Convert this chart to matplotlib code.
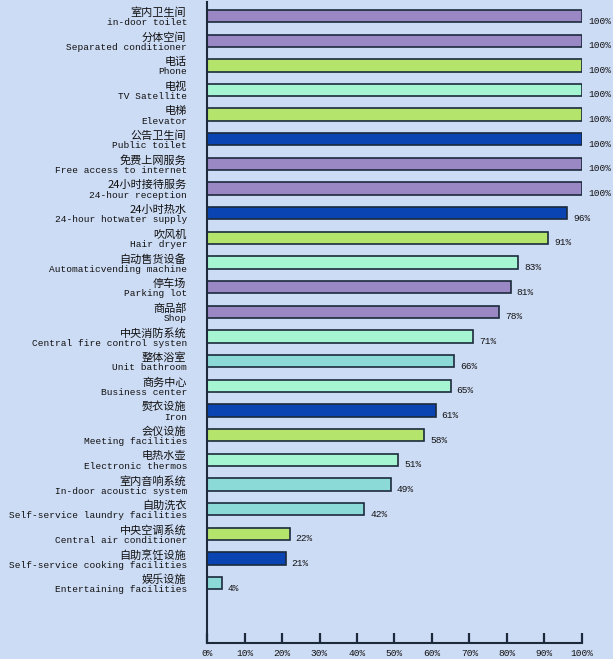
import matplotlib
matplotlib.use('Agg')
import matplotlib.pyplot as plt
import matplotlib.transforms as mtransforms

plt.rcParams['font.family'] = ['Noto Sans CJK SC', 'DejaVu Sans']

names_cn = ['室内卫生间', '分体空间', '电话', '电视', '电梯', '公告卫生间',
            '免费上网服务', '24小时接待服务', '24小时热水', '吹风机', '自动售货设备',
            '停车场', '商品部', '中央消防系统', '整体浴室', '商务中心', '熨衣设施',
            '会仪设施', '电热水壶', '室内音响系统', '自助洗衣', '中央空调系统',
            '自助烹饪设施', '娱乐设施']
names_en = ['in-door toilet', 'Separated conditioner', 'Phone', 'TV Satellite',
            'Elevator', 'Public toilet', 'Free access to internet',
            '24-hour reception', '24-hour hotwater supply', 'Hair dryer',
            'Automaticvending machine', 'Parking lot', 'Shop',
            'Central fire control systen', 'Unit bathroom', 'Business center',
            'Iron', 'Meeting facilities', 'Electronic thermos',
            'In-door acoustic system', 'Self-service laundry facilities',
            'Central air conditioner', 'Self-service cooking facilities',
            'Entertaining facilities']
values = [100, 100, 100, 100, 100, 100, 100, 100, 96, 91, 83, 81, 78, 71,
          66, 65, 61, 58, 51, 49, 42, 22, 21, 4]
groups = ['purple', 'purple', 'lime', 'mint', 'lime', 'blue', 'purple', 'purple',
          'blue', 'lime', 'mint', 'purple', 'purple', 'mint', 'teal', 'mint',
          'blue', 'lime', 'mint', 'teal', 'teal', 'lime', 'blue', 'teal']
xticks = [0, 10, 20, 30, 40, 50, 60, 70, 80, 90, 100]

palette = {'purple': '#9a88c4', 'lime': '#b4e46c', 'mint': '#a6f5d2',
           'blue': '#0a44b2', 'teal': '#8cdad8'}
bg = '#cddcf5'
dark = '#1c2a3c'

fig = plt.figure(figsize=(6.13, 6.59), dpi=100, facecolor=bg)
ax = fig.add_axes([0.3377, 0.0243, 0.6117, 0.9727], facecolor=bg)

pos = list(range(len(values)))
ax.barh(pos, values, height=0.5, color=[palette[g] for g in groups],
        edgecolor=dark, linewidth=1.2)

ax.set_xlim(0, 100)
ax.set_ylim(25.43, -0.57)

for y, v in zip(pos, values):
    ax.annotate('%d%%' % v, (v, y), xytext=(6, -5), textcoords='offset pixels',
                ha='left', va='center', fontsize=6.8, family='Liberation Mono',
                color='#111111')

trans = mtransforms.blended_transform_factory(ax.transAxes, ax.transData)
for y, cn, en in zip(pos, names_cn, names_en):
    ax.text(-0.055, y - 0.14, cn, transform=trans, ha='right', va='center',
            fontsize=8, color='#111111')
    ax.text(-0.053, y + 0.27, en, transform=trans, ha='right', va='center',
            fontsize=6.8, family='Liberation Mono', color='#111111')

ax.set_yticks([])
ax.set_xticks(xticks)
ax.set_xticklabels(['%d%%' % t for t in xticks], fontsize=6.8,
                   family='Liberation Mono', color='#111111')
for lab in ax.get_xticklabels():
    lab.set_transform(lab.get_transform() + mtransforms.Affine2D().translate(4, 0))
ax.tick_params(axis='x', direction='in', length=7, width=1.6, color=dark, pad=4)
for s in ['top', 'right']:
    ax.spines[s].set_visible(False)
for s in ['left', 'bottom']:
    ax.spines[s].set_color(dark)
    ax.spines[s].set_linewidth(1.5)

fig.savefig('out.png', dpi=100, facecolor=bg)
